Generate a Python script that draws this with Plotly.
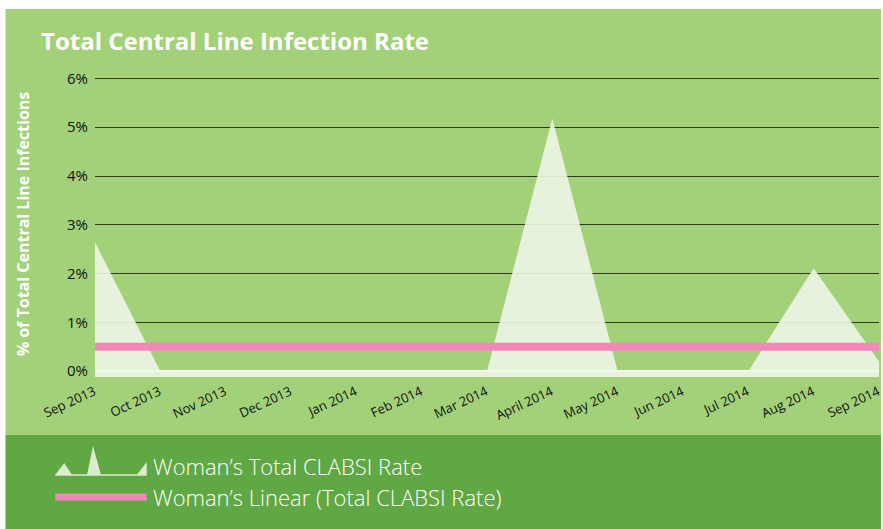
import plotly.graph_objects as go

months = ["Sep 2013", "Oct 2013", "Nov 2013", "Dec 2013", "Jan 2014", "Feb 2014",
          "Mar 2014", "April 2014", "May 2014", "Jun 2014", "Jul 2014", "Aug 2014", "Sep 2014"]
clabsi_rate = [2.64, 0, 0, 0, 0, 0, 0, 5.18, 0, 0, 0, 2.11, 0.2]
linear_rate = [0.5] * len(months)
y_ticks = [0, 1, 2, 3, 4, 5, 6]
y_tick_text = ["0%", "1%", "2%", "3%", "4%", "5%", "6%"]
y_min, y_max = -0.12, 6.03

W, H = 883, 529
L, R, T, B = 95, 0, 77, 152
PW, PH = W - L - R, H - T - B


# pixel -> paper helpers for decorations outside the plot area
def px(x):
    return (x - L) / PW


def py(y):
    return (H - B - y) / PH


LIGHT = "#a3d17a"
DARK = "#60a843"
FILL = "rgba(238,245,232,0.9)"
PINK = "#f088b8"
ICON = "#dcebd0"

fig = go.Figure()

# baseline at the axis bottom so the area runs a little below 0%
fig.add_trace(go.Scatter(x=months, y=[y_min] * len(months), mode="lines",
                         line=dict(width=0), hoverinfo="skip", showlegend=False))
fig.add_trace(go.Scatter(x=months, y=clabsi_rate, mode="lines",
                         fill="tonexty", fillcolor=FILL, line=dict(width=0),
                         hoverinfo="skip", showlegend=False))
fig.add_trace(go.Scatter(x=months, y=linear_rate, mode="lines",
                         line=dict(color=PINK, width=8),
                         hoverinfo="skip", showlegend=False))


def tri(x0, xp, yp, x1, base=475):
    return "M {},{} L {},{} L {},{} Z".format(px(x0), py(base), px(xp), py(yp), px(x1), py(base))


shapes = [
    # panel backgrounds
    dict(type="rect", xref="paper", yref="paper", x0=px(5), x1=px(W + 2), y0=py(435), y1=py(9),
         fillcolor=LIGHT, line=dict(width=0), layer="below"),
    dict(type="rect", xref="paper", yref="paper", x0=px(5), x1=px(W + 2), y0=py(H + 2), y1=py(435),
         fillcolor=DARK, line=dict(width=0), layer="below"),
    # legend icon for the area
    dict(type="path", xref="paper", yref="paper", layer="above", path=tri(55, 64, 463, 72),
         fillcolor=ICON, line=dict(width=0)),
    dict(type="path", xref="paper", yref="paper", layer="above", path=tri(87, 93, 446, 101),
         fillcolor=ICON, line=dict(width=0)),
    dict(type="path", xref="paper", yref="paper", layer="above", path=tri(137, 147, 462, 147),
         fillcolor=ICON, line=dict(width=0)),
    dict(type="line", xref="paper", yref="paper", x0=px(55), x1=px(147), y0=py(475), y1=py(475),
         line=dict(color=ICON, width=1.5), layer="above"),
    # legend line for the trend
    dict(type="line", xref="paper", yref="paper", x0=px(55), x1=px(147), y0=py(497), y1=py(497),
         line=dict(color=PINK, width=7), layer="above"),
]

annotations = [
    dict(text="<b>Total Central Line Infection Rate</b>", xref="paper", yref="paper",
         x=px(39), y=py(40), xanchor="left", yanchor="middle", showarrow=False,
         font=dict(family="Open Sans", size=24, color="white")),
    dict(text="<b>% of Total Central Line Infections</b>", xref="paper", yref="paper",
         x=px(23), y=py(224), xanchor="center", yanchor="middle", textangle=-90, showarrow=False,
         font=dict(family="Open Sans", size=16, color="white")),
    dict(text="Woman’s Total CLABSI Rate", xref="paper", yref="paper",
         x=px(151), y=py(466), xanchor="left", yanchor="middle", showarrow=False,
         font=dict(family="Open Sans", size=22, color="white", weight=300)),
    dict(text="Woman’s Linear (Total CLABSI Rate)", xref="paper", yref="paper",
         x=px(151), y=py(497), xanchor="left", yanchor="middle", showarrow=False,
         font=dict(family="Open Sans", size=22, color="white", weight=300)),
]

fig.update_layout(
    width=W, height=H,
    margin=dict(l=L, r=R, t=T, b=B),
    paper_bgcolor="white",
    plot_bgcolor="rgba(0,0,0,0)",
    shapes=shapes,
    annotations=annotations,
    showlegend=False,
    xaxis=dict(type="category", range=[0, len(months) - 1], showgrid=False, zeroline=False,
               showline=False, ticks="", tickangle=-25, ticklabelshift=-1, ticklabelstandoff=4,
               tickfont=dict(family="Open Sans", size=13, color="#111111")),
    yaxis=dict(range=[y_min, y_max], tickvals=y_ticks, ticktext=y_tick_text,
               showgrid=True, gridcolor="#2e3a22", gridwidth=1.3,
               zeroline=True, zerolinecolor="white", zerolinewidth=2,
               showline=False, ticks="", ticklabelstandoff=6,
               tickfont=dict(family="Open Sans", size=15, color="#111111")),
)

fig.write_html("out.html", config={"displayModeBar": False}, post_script=(
    "document.body.style.margin='0';document.body.style.overflow='hidden';"
    "Plotly.relayout('{plot_id}', {width: 883, height: 529});"))
